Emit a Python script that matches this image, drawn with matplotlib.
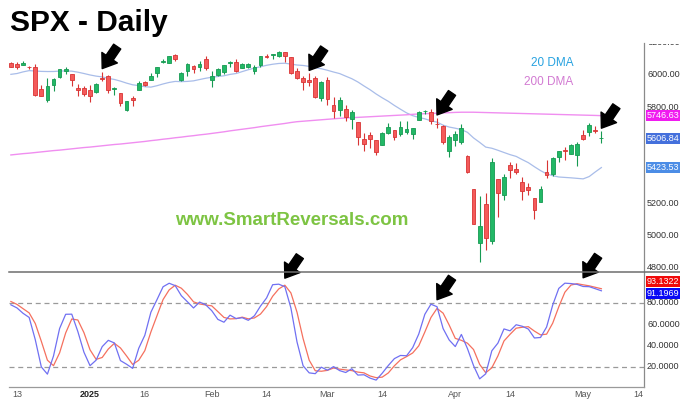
import numpy as np
import pandas as pd
import matplotlib
matplotlib.use('Agg')
import matplotlib.pyplot as plt
from matplotlib.transforms import offset_copy, Bbox, TransformedBbox, blended_transform_factory

# === DATA: SPX daily, 14 Nov 2024 - 6 May 2025 (first 19 bars only warm up the 20 DMA / stochastic) ===
HOLIDAYS = ['2024-11-28', '2024-12-25', '2025-01-01', '2025-01-09', '2025-01-20', '2025-02-17', '2025-04-18']
FIRST_DAY = '2024-11-14'
LAST_DAY = '2025-05-06'
N_WARMUP = 19

opens = [5989.6, 5912.8, 5874.2, 5867.4, 5917.1, 5934.4, 5944.4, 5992.3, 6000.0, 6014.1,
         6004.0, 6040.1, 6041.0, 6069.4, 6089.0, 6081.4, 6083.0, 6057.6, 6060.2,
         6074.3, 6068.2, 6063.8, 6052.6, 6047.7, 5912.7, 5842.0, 5940.3, 5984.7, 6025.0,
         6006.2, 5920.7, 5919.7, 5903.3, 5891.1, 5982.8, 5993.3, 5910.7, 5890.7, 5782.3,
         5859.6, 5905.2, 5955.7, 5969.3, 6014.1, 6081.4, 6076.3, 6121.4, 5969.0, 6027.0,
         6057.7, 6050.8, 6096.8, 5969.7, 5998.1, 6020.5, 6072.2, 6083.1, 6046.4, 6049.3,
         6025.1, 6060.6, 6115.5, 6121.6, 6117.8, 6141.4, 6114.8, 6026.7, 5982.7, 5970.9,
         5981.9, 5856.7, 5968.3, 5812.0, 5781.4, 5785.9, 5726.0, 5705.4, 5603.7, 5624.8,
         5594.5, 5563.9, 5635.6, 5654.5, 5632.4, 5646.9, 5630.7, 5718.1, 5775.9, 5771.7,
         5695.6, 5679.5, 5527.9, 5597.5, 5580.8, 5492.7, 5292.1, 4953.8, 5193.6, 4965.3,
         5353.2, 5255.6, 5442.0, 5412.0, 5335.8, 5305.5, 5232.9, 5207.7, 5395.9, 5381.4,
         5489.7, 5529.2, 5508.9, 5499.4, 5625.1, 5645.9, 5655.3, 5605.9]
highs = [5993.9, 5915.1, 5908.1, 5917.0, 5920.7, 5963.1, 5972.9, 6020.8, 6025.4, 6020.2,
         6044.2, 6053.6, 6052.7, 6089.8, 6100.0, 6099.0, 6088.5, 6065.4, 6092.6,
         6079.7, 6078.6, 6085.2, 6057.7, 6070.7, 5935.5, 5982.1, 5978.3, 6040.1, 6049.8,
         6006.2, 5940.8, 5929.7, 5935.1, 5949.3, 6021.0, 6000.7, 5927.9, 5890.7, 5838.7,
         5871.9, 5960.6, 5964.7, 6015.0, 6051.5, 6100.8, 6118.7, 6128.2, 6017.2, 6074.5,
         6062.8, 6086.6, 6120.9, 6022.1, 6042.5, 6062.9, 6084.0, 6101.3, 6073.4, 6076.3,
         6063.5, 6116.9, 6127.5, 6129.6, 6147.4, 6141.4, 6114.8, 6043.7, 5992.7, 6009.8,
         5993.7, 5959.4, 5986.1, 5865.1, 5860.6, 5812.1, 5783.0, 5705.4, 5636.3, 5642.2,
         5597.8, 5645.3, 5703.5, 5654.5, 5715.3, 5711.2, 5670.8, 5775.1, 5783.7, 5787.0,
         5732.3, 5689.8, 5627.0, 5650.6, 5695.3, 5499.5, 5292.1, 5246.6, 5267.5, 5481.3,
         5353.2, 5381.5, 5459.5, 5450.4, 5367.2, 5328.3, 5232.9, 5309.6, 5469.7, 5489.4,
         5528.1, 5553.7, 5572.0, 5581.8, 5658.9, 5700.7, 5683.0, 5649.7]
lows = [5942.3, 5853.0, 5865.9, 5853.6, 5860.6, 5883.4, 5944.4, 5963.9, 5992.3, 5984.9,
        6004.0, 6035.3, 6033.4, 6061.1, 6070.7, 6080.0, 6048.6, 6029.9, 6060.2,
        6051.3, 6035.8, 6059.1, 6035.2, 5867.8, 5866.1, 5832.3, 5902.6, 5981.4, 6007.4,
        5933.0, 5869.2, 5868.9, 5829.5, 5888.7, 5960.0, 5890.7, 5874.8, 5809.2, 5773.3,
        5807.5, 5905.2, 5931.6, 5969.3, 5985.8, 6076.1, 6074.7, 6088.7, 5962.9, 5994.6,
        6013.0, 6027.5, 6030.9, 5923.9, 5990.9, 6007.1, 6046.8, 6020.0, 6044.8, 6042.3,
        6003.0, 6051.0, 6107.6, 6099.5, 6111.2, 6079.5, 6008.6, 5977.8, 5908.5, 5932.7,
        5858.8, 5837.7, 5810.9, 5732.6, 5742.4, 5711.6, 5666.3, 5564.0, 5528.4, 5546.1,
        5504.7, 5563.9, 5631.1, 5597.8, 5622.2, 5632.3, 5603.1, 5718.1, 5759.8, 5694.2,
        5670.9, 5572.4, 5488.7, 5558.5, 5571.5, 5390.8, 5069.9, 4835.0, 4910.4, 4948.4,
        5115.3, 5220.8, 5358.0, 5386.4, 5220.8, 5255.6, 5101.6, 5207.7, 5356.5, 5372.0,
        5455.9, 5468.6, 5505.7, 5433.2, 5597.4, 5622.3, 5637.6, 5578.6]
closes = [5949.17, 5870.62, 5893.62, 5916.98, 5917.11, 5948.71, 5969.34, 5987.37, 6021.63, 5998.74,
          6032.38, 6047.15, 6049.88, 6086.49, 6075.11, 6090.27, 6052.85, 6034.91, 6084.19,
          6051.25, 6051.09, 6074.08, 6050.61, 5872.16, 5867.08, 5930.85, 5974.07, 6040.04, 6037.59,
          5970.84, 5906.94, 5881.63, 5868.55, 5942.47, 5975.38, 5909.03, 5918.25, 5827.04, 5836.22,
          5842.91, 5949.91, 5937.34, 5996.66, 6049.24, 6086.37, 6118.71, 6101.24, 6012.28, 6067.70,
          6039.31, 6071.17, 6040.53, 5994.57, 6037.88, 6061.48, 6083.57, 6025.99, 6066.44, 6068.50,
          6051.97, 6115.07, 6114.63, 6129.58, 6144.15, 6117.52, 6013.13, 5983.25, 5955.25, 5956.06,
          5861.57, 5954.50, 5849.72, 5778.15, 5842.63, 5738.52, 5770.20, 5614.56, 5572.07, 5599.30,
          5521.52, 5638.94, 5675.12, 5614.66, 5675.29, 5662.89, 5667.56, 5767.57, 5776.65, 5712.20,
          5693.31, 5580.94, 5611.85, 5633.07, 5670.97, 5396.52, 5074.08, 5062.25, 4982.77, 5456.90,
          5268.05, 5363.36, 5405.97, 5396.63, 5275.70, 5282.70, 5158.20, 5287.76, 5375.86, 5484.77,
          5525.21, 5528.75, 5560.83, 5569.06, 5604.14, 5686.67, 5650.38, 5606.84]

# 200 DMA (visible bars only)
dma200 = [5502, 5506, 5510, 5513, 5517, 5521, 5525, 5529, 5532, 5536, 5540, 5544, 5548, 5551,
          5555, 5559, 5563, 5567, 5570, 5574, 5578, 5582, 5586, 5591, 5595, 5600, 5604, 5609,
          5613, 5618, 5622, 5627, 5631, 5636, 5641, 5646, 5652, 5657, 5662, 5667, 5672, 5678,
          5683, 5688, 5693, 5698, 5704, 5709, 5712, 5715, 5718, 5721, 5724, 5727, 5730, 5732,
          5734, 5736, 5738, 5740, 5742, 5744, 5746, 5748, 5750, 5752, 5755, 5757, 5759, 5760,
          5762, 5764, 5765, 5767, 5768, 5768, 5768, 5767, 5766, 5765, 5764, 5763, 5762, 5761,
          5760, 5759, 5758, 5757, 5756, 5755, 5754, 5753, 5752, 5751, 5750, 5749, 5748, 5746.63]

# last values as printed in the chart's value boxes
stoch_d_last = 93.1322
stoch_k_last = 91.1969

tick_dates = ['2024-12-13', '2025-01-02', '2025-01-16', '2025-02-03', '2025-02-14', '2025-03-03',
              '2025-03-14', '2025-04-01', '2025-04-14', '2025-05-01', '2025-05-14']
tick_labels = ['13', '2025', '16', 'Feb', '14', 'Mar', '14', 'Apr', '14', 'May', '14']
price_ticks = [4800, 5000, 5200, 5800, 6000, 6200]   # 5400 / 5600 sit under the value boxes
stoch_ticks = [20, 40, 60, 80]
price_arrow_days = ['2025-01-06', '2025-02-26', '2025-03-27', '2025-05-06']
stoch_arrow_days = ['2025-02-20', '2025-03-27', '2025-05-01']

# --- colours ---
UP_FILL, UP_EDGE = '#22b866', '#169a52'
DN_FILL, DN_EDGE = '#f45a5a', '#d83434'
C_DMA20 = '#a9bde9'
C_DMA200 = '#f08ef0'
C_K = '#7070f2'
C_D = '#f5705e'

plt.rcParams['font.family'] = ['Liberation Sans', 'DejaVu Sans']

# --- indicators ---
dates = pd.bdate_range(FIRST_DAY, LAST_DAY, freq='C', holidays=HOLIDAYS)
df = pd.DataFrame({'open': opens, 'high': highs, 'low': lows, 'close': closes}, index=dates)
df['dma20'] = df['close'].rolling(20).mean()
lo14 = df['low'].rolling(14).min()
hi14 = df['high'].rolling(14).max()
fast_k = 100 * (df['close'] - lo14) / (hi14 - lo14)
df['k'] = fast_k.rolling(3).mean()
df['d'] = df['k'].rolling(3).mean()
df = df.iloc[N_WARMUP:].copy()
df['dma200'] = dma200

start = df.index[0].strftime('%Y-%m-%d')
def day_index(d):
    return int(np.busday_count(start, d, holidays=HOLIDAYS))

x = np.arange(len(df))
up = df['close'] >= df['open']

fig = plt.figure(figsize=(6.8, 3.99), dpi=100)
ax = fig.add_axes([9 / 680, 1 - 271.7 / 399, 635 / 680, (271.7 - 43) / 399])
ax2 = fig.add_axes([9 / 680, 1 - 386.7 / 399, 635 / 680, 115 / 399], sharex=ax)

# === price panel ===
body_lo = np.minimum(df['open'], df['close'])
body_h = np.maximum(np.abs(df['close'] - df['open']), 2.0)
ax.vlines(x, df['low'], df['high'], colors=np.where(up, UP_EDGE, DN_EDGE), lw=0.8, zorder=2)
ax.bar(x, body_h, bottom=body_lo, width=0.62, color=np.where(up, UP_FILL, DN_FILL),
       edgecolor=np.where(up, UP_EDGE, DN_EDGE), linewidth=0.6, zorder=3)
ax.plot(x, df['dma20'], color=C_DMA20, lw=0.9, zorder=1)
ax.plot(x, df['dma200'], color=C_DMA200, lw=1.0, zorder=1)

ax.set_xlim(-0.31, 104.0)
ax.set_ylim(4775, 4775 + (271.7 - 43) / 0.1606)
for s in ['top', 'left', 'bottom']:
    ax.spines[s].set_visible(False)
ax.spines['right'].set_color('#8a8a8a')
ax.spines['right'].set_linewidth(0.9)
ax.set_yticks([])
ax.tick_params(axis='x', bottom=False, labelbottom=False)

ytr = blended_transform_factory(ax.transAxes, ax.transData)
top_clip = TransformedBbox(Bbox.from_extents(0.9, 0.0, 1.0, 1 - 43.5 / 399), fig.transFigure)
for p in price_ticks:
    t = ax.text(1.0, p, f'{p:.2f}', transform=offset_copy(ytr, fig=fig, x=3, y=0, units='dots'),
                ha='left', va='center', fontsize=6.5, color='#333333', clip_on=True)
    t.set_clip_box(top_clip)

def value_box(axis, val, txt, color, dy=0):
    tr = offset_copy(blended_transform_factory(axis.transAxes, axis.transData), fig=fig, x=3, y=dy, units='dots')
    axis.text(1.0, val, txt, transform=tr, ha='left', va='center', fontsize=6.5, color='white',
              clip_on=False, zorder=10,
              bbox=dict(boxstyle='square,pad=0.12', fc=color, ec='none'))

value_box(ax, df['dma200'].iloc[-1], f"{df['dma200'].iloc[-1]:.2f}", '#f01cf0')
value_box(ax, df['close'].iloc[-1], f"{df['close'].iloc[-1]:.2f}", '#4470dc')
value_box(ax, df['dma20'].iloc[-1], f"{df['dma20'].iloc[-1]:.2f}", '#4c8de6')

# === stochastic panel ===
ax2.axhline(80, color='#9a9a9a', lw=0.9, ls=(0, (4, 3)))
ax2.axhline(20, color='#9a9a9a', lw=0.9, ls=(0, (4, 3)))
ax2.plot(x, df['d'], color=C_D, lw=0.9)
ax2.plot(x, df['k'], color=C_K, lw=0.9)
ax2.set_ylim(1.25, 109.1)
ax2.spines['left'].set_visible(False)
ax2.spines['top'].set_visible(False)
ax2.spines['right'].set_color('#8a8a8a')
ax2.spines['right'].set_linewidth(0.9)
ax2.spines['bottom'].set_color('#9a9a9a')
ax2.spines['bottom'].set_linewidth(0.9)
ax2.set_yticks([])

ytr2 = blended_transform_factory(ax2.transAxes, ax2.transData)
for s in stoch_ticks:
    ax2.text(1.0, s, f'{s:.4f}', transform=offset_copy(ytr2, fig=fig, x=3, y=0, units='dots'),
             ha='left', va='center', fontsize=6.5, color='#333333', clip_on=False)
value_box(ax2, stoch_d_last, f'{stoch_d_last:.4f}', '#f00a0a', dy=7)
value_box(ax2, stoch_k_last, f'{stoch_k_last:.4f}', '#0a0af5', dy=-3)

ax2.set_xticks([day_index(d) for d in tick_dates])
ax2.set_xticklabels(tick_labels)
ax2.tick_params(axis='x', length=0, pad=2.5, labelsize=6.5, labelcolor='#555555')
for lab in ax2.get_xticklabels():
    if lab.get_text() == '2025':
        lab.set_fontweight('bold')
        lab.set_color('#222222')

# separator line between the panels (runs out to the right edge)
fig.add_artist(plt.Line2D([9 / 680, 1.0], [1 - 271.7 / 399] * 2, color='#6e6e6e', lw=1.1))

# === arrows ===
arrow = dict(arrowstyle='simple,head_length=0.95,head_width=1.35,tail_width=0.62',
             fc='black', ec='black', mutation_scale=10, shrinkA=0, shrinkB=0)
for d in price_arrow_days:
    i = day_index(d)
    ax.annotate('', xy=(i, df['high'].iloc[i]), xycoords=offset_copy(ax.transData, fig=fig, x=0, y=3, units='dots'),
                xytext=(15, 22), textcoords='offset pixels', arrowprops=arrow, annotation_clip=False, zorder=20)
for d in stoch_arrow_days:
    i = day_index(d)
    v = max(df['k'].iloc[i], df['d'].iloc[i])
    ax2.annotate('', xy=(i, v), xycoords=offset_copy(ax2.transData, fig=fig, x=0, y=7, units='dots'),
                 xytext=(15, 22), textcoords='offset pixels', arrowprops=arrow, annotation_clip=False, zorder=20)

# === texts ===
fig.text(10 / 680, 1 - 23 / 399, 'SPX - Daily', fontsize=21.5, fontweight='bold', va='center', ha='left')
fig.text(552 / 680, 1 - 63 / 399, '20 DMA', fontsize=8.5, color='#27a2e0', ha='center', va='center')
fig.text(549 / 680, 1 - 82 / 399, '200 DMA', fontsize=8.5, color='#d27ad2', ha='center', va='center')
fig.text(292 / 680, 1 - 220.7 / 399, 'www.SmartReversals.com', fontsize=13.5, fontweight='bold',
         color='#7dc443', ha='center', va='center')

fig.savefig('out.png', dpi=100)
